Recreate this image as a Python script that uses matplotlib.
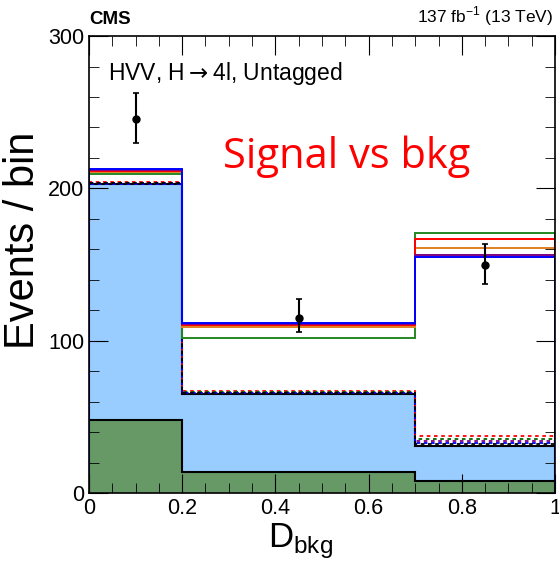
import numpy as np
from matplotlib import pyplot as plt
from matplotlib.ticker import MultipleLocator

plt.rcParams['font.family'] = ['Liberation Sans', 'DejaVu Sans']

# Bin edges in D_bkg
edges = [0.0, 0.2, 0.7, 1.0]

# Stacked backgrounds (cumulative tops)
bkgGreen = [48, 14, 8]
bkgTotal = [203, 65, 31]

# Signal + background hypotheses (solid lines)
sigBlue = [212.7, 112.0, 154.7]
sigPurple = [212.0, 111.3, 156.2]
sigRed = [211.5, 110.3, 166.5]
sigOrange = [210.7, 109.0, 160.6]
sigGreen = [209.2, 101.8, 170.9]

# Background-only variants (dotted lines)
dotRed = [204.0, 67.0, 37.4]
dotGreen = [203.5, 66.3, 35.4]
dotPurple = [203.3, 66.0, 34.0]
dotBlue = [203.1, 65.8, 33.2]
dotBlack = [203.5, 66.0, 32.5]

# Observed data
dataX = [0.1, 0.45, 0.85]
dataY = [245.5, 115.0, 149.7]
errLo = [15.7, 9.3, 12.5]
errHi = [17.1, 12.4, 13.8]

fig = plt.figure(figsize=(5.59, 5.63), dpi=100)
ax = fig.add_axes([0.159, 0.124, 0.834, 0.812])

# backgrounds
ax.stairs(bkgTotal, edges, fill=True, color='#99ccff')
ax.stairs(bkgTotal, edges, color='black', linewidth=1.5)
ax.stairs(bkgGreen, edges, fill=True, color='#669966')
ax.stairs(bkgGreen, edges, color='black', linewidth=1.5)

# dotted variants
for vals, c in [(dotRed, 'red'), (dotGreen, '#006600'), (dotPurple, 'purple'),
                (dotBlue, 'blue'), (dotBlack, 'black')]:
    ax.stairs(vals, edges, color=c, linestyle=(0, (2, 2)), linewidth=1.3)

# solid signal lines
for vals, c in [(sigGreen, '#228822'), (sigOrange, '#e08020'), (sigRed, 'red'),
                (sigPurple, 'purple'), (sigBlue, 'blue')]:
    ax.stairs(vals, edges, color=c, linewidth=1.4)

ax.errorbar(dataX, dataY, yerr=[errLo, errHi], fmt='o', color='black',
            markersize=5, elinewidth=1.5, capsize=2.5, capthick=1.2)

ax.set_xlim(0, 1)
ax.set_ylim(0, 300)
ax.xaxis.set_major_locator(MultipleLocator(0.2))
ax.xaxis.set_minor_locator(MultipleLocator(0.05))
ax.yaxis.set_major_locator(MultipleLocator(100))
ax.yaxis.set_minor_locator(MultipleLocator(20))
ax.tick_params(which='both', direction='in', top=True, right=True, labelsize=15.5)
ax.tick_params(which='major', length=14)
ax.tick_params(which='minor', length=7)
ax.set_xticks([0, 0.2, 0.4, 0.6, 0.8, 1.0])
ax.set_xticklabels(['0', '0.2', '0.4', '0.6', '0.8', '1'])
for s in ax.spines.values():
    s.set_linewidth(1.2)

ax.set_xlabel(r'D$_{\mathregular{bkg}}$', fontsize=25)
ax.xaxis.set_label_coords(0.455, -0.062)
ax.set_ylabel('Events / bin', fontsize=30)
ax.yaxis.set_label_coords(-0.098, 0.553)

ax.text(0.04, 0.948, 'HVV, H$\\rightarrow$4l, Untagged', transform=ax.transAxes,
        fontsize=16.5, va='top')
ax.text(0.553, 0.735, 'Signal vs bkg', transform=ax.transAxes, color='red',
        fontsize=30, ha='center', va='center', family=['Open Sans', 'DejaVu Sans'])

fig.text(0.159, 0.950, 'CMS', fontsize=13.5, fontweight='bold', va='bottom')
fig.text(0.99, 0.950, r'137 fb$^{\mathregular{-1}}$ (13 TeV)', fontsize=12.5,
         ha='right', va='bottom')

plt.savefig('out.png', dpi=100)
